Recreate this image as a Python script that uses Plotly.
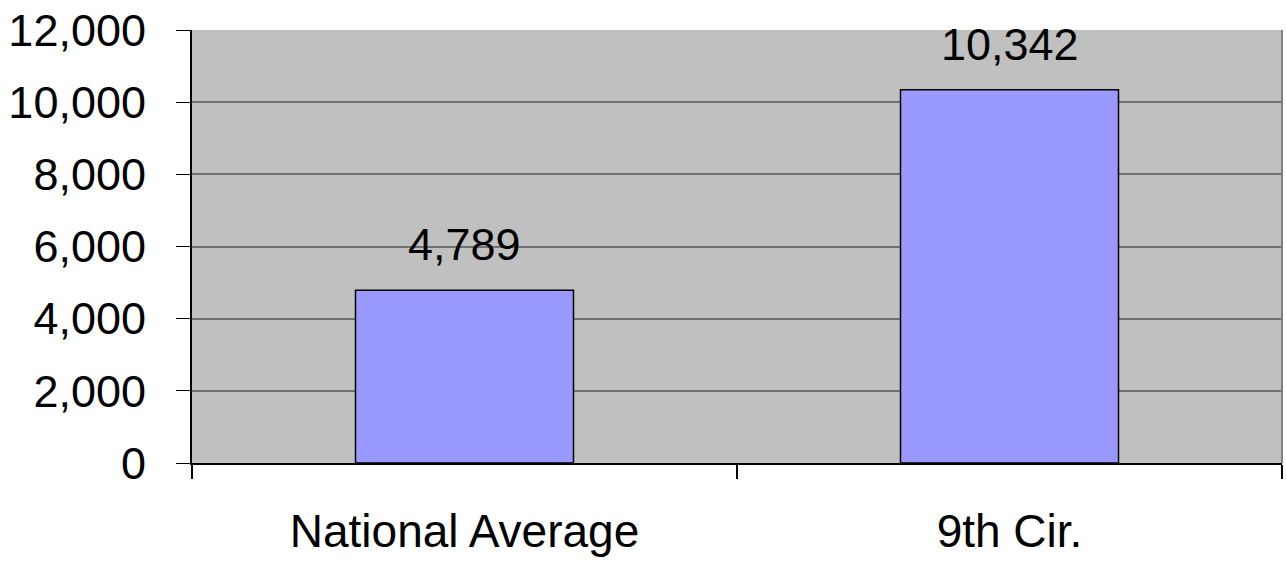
import plotly.graph_objects as go

categories = ["National Average", "9th Cir."]
values = [4789, 10342]
value_labels = ["4,789", "10,342"]
y_tick_vals = [0, 2000, 4000, 6000, 8000, 10000, 12000]
y_tick_text = ["0", "2,000", "4,000", "6,000", "8,000", "10,000", "12,000"]

FONT = "Liberation Sans, Arial, sans-serif"

fig = go.Figure()
fig.add_trace(go.Bar(
    x=categories, y=values,
    marker=dict(color="#9999FF", line=dict(color="#000000", width=1.5)),
    width=0.4,
    hoverinfo="skip",
))

for c, v, t in zip(categories, values, value_labels):
    fig.add_annotation(x=c, y=v, text=t, showarrow=False, yanchor="bottom",
                       yshift=18, font=dict(family=FONT, size=45, color="#000000"))

# gray right border of plot area
fig.add_shape(type="line", xref="paper", yref="paper", x0=1, x1=1, y0=0, y1=1,
              line=dict(color="#808080", width=2))

fig.update_layout(
    width=1286, height=561,
    margin=dict(l=192, r=4, t=30, b=98),
    paper_bgcolor="#FFFFFF",
    plot_bgcolor="#C0C0C0",
    showlegend=False,
    bargap=0.6,
    font=dict(family=FONT, size=45, color="#000000"),
    xaxis=dict(
        showline=True, linecolor="#000000", linewidth=2,
        ticks="outside", tickson="boundaries", ticklen=14, tickcolor="#000000", tickwidth=2,
        tickfont=dict(family=FONT, size=46, color="#000000"),
        ticklabelstandoff=27,
        showgrid=False, zeroline=False,
    ),
    yaxis=dict(
        range=[0, 12000],
        tickvals=y_tick_vals, ticktext=y_tick_text,
        showline=True, linecolor="#000000", linewidth=2,
        ticks="outside", ticklen=14, tickcolor="#000000", tickwidth=1,
        tickfont=dict(family=FONT, size=45, color="#000000"),
        ticklabelstandoff=21,
        showgrid=True, gridcolor="#707070", gridwidth=1.5,
        zeroline=False,
    ),
)

fig.write_html("out.html")
